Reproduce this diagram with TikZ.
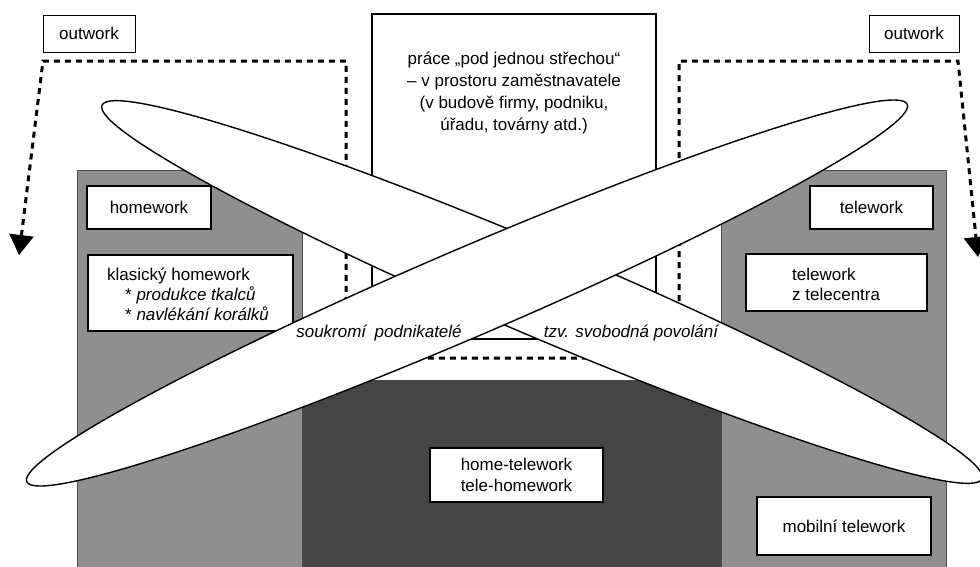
\documentclass[tikz,border=0pt]{standalone}
\usepackage{fontspec}
\setmainfont{Liberation Sans}
\usetikzlibrary{arrows.meta}
\definecolor{homegray}{gray}{0.56}
\definecolor{coregray}{gray}{0.27}

\begin{document}
\begin{tikzpicture}[x=1pt,y=-1pt,
 box/.style={draw,fill=white,line width=1.3pt,inner sep=0pt},
 field/.style={draw=black!70,line width=1pt,inner sep=0pt},
 txt/.style={inner sep=0pt,font=\fontsize{17}{21}\selectfont},
 itxt/.style={inner sep=0pt,font=\fontsize{17}{21}\selectfont\itshape},
 dashline/.style={line width=3pt,dash pattern=on 6pt off 5pt},
 lens/.style={draw,fill=white,line width=1.4pt}]
 \useasboundingbox (0,0) rectangle (980,566);
 \clip (0,0) rectangle (980,566);

 \node [field,fill=homegray,minimum width=225,minimum height=430] (HW)at (189.5,385){};
 \node [field,fill=homegray,minimum width=225,minimum height=430] (TW)at (833.5,385){};
 \node [field,fill=coregray,minimum width=419,minimum height=220] (HT)at (511.5,490){};

 \node [box,minimum width=124,minimum height=43] (HW1)at (149,207.5){};
 \node [box,minimum width=205,minimum height=76] (HW2)at (190.5,293){};
 \node [box,minimum width=123,minimum height=43] (TW1)at (871.5,207.5){};
 \node [box,minimum width=181,minimum height=57] (TW2)at (836.5,282.5){};
 \node [box,minimum width=174,minimum height=58] (TW3)at (844,526){};
 \node [box,minimum width=173,minimum height=54] (HT1)at (516.5,475){};
 \node [box,line width=2pt,minimum width=284,minimum height=325] (P)at (514,176.5){};
 \node [box,line width=1pt,minimum width=92,minimum height=37] (OL)at (89,33.5){};
 \node [box,line width=1pt,minimum width=90,minimum height=37] (OR)at (914,33.5){};

 \draw (OL) node[txt]{outwork};
 \draw (OR) node[txt]{outwork};
 \draw (HW1) node[txt]{homework};
 \draw (TW1) node[txt]{telework};
 \draw (TW3) node[txt]{mobilní telework};
 \draw (HT1) node[txt,align=center]{home-telework\\tele-homework};
 \node [txt,align=center,font=\fontsize{17}{21.7}\selectfont] (P1)at (514,93)
  {práce „pod jednou střechou“\\– v prostoru zaměstnavatele\\(v budově firmy, podniku,\\úřadu, továrny atd.)};
 \node [txt,align=left,anchor=west,font=\fontsize{17}{20}\selectfont] (HW3)at (107,294)
  {klasický homework\\\hspace*{18pt}* \textit{produkce tkalců}\\\hspace*{18pt}* \textit{navlékání korálků}};
 \node [txt,align=left,anchor=west,font=\fontsize{17}{20}\selectfont] (TW4)at (792,284)
  {telework\\z telecentra};

 \coordinate (LA) at (19,255);
 \coordinate (LB) at (43,61);
 \coordinate (LC) at (346,61);
 \coordinate (LD) at (346,358);
 \coordinate (RD) at (679,358);
 \coordinate (RC) at (679,61);
 \coordinate (RB) at (958,61);
 \coordinate (RA) at (978,257);
 \draw[dashline,{Triangle[length=20pt,width=24pt]}-{Triangle[length=20pt,width=24pt]}]
  (LA) -- (LB) -- (LC) -- (LD) -- (RD) -- (RC) -- (RB) -- (RA);

 \draw[lens,rotate around={-23:(542,292)}] (542,292) ellipse [x radius=478,y radius=45];
 \draw[lens,rotate around={23.2:(467,293)}] (467,293) ellipse [x radius=479,y radius=44];

 \node [itxt] (S1)at (379,333){soukromí\enspace podnikatelé};
 \node [itxt] (S2)at (631,333){tzv. svobodná povolání};

\end{tikzpicture}
\end{document}
